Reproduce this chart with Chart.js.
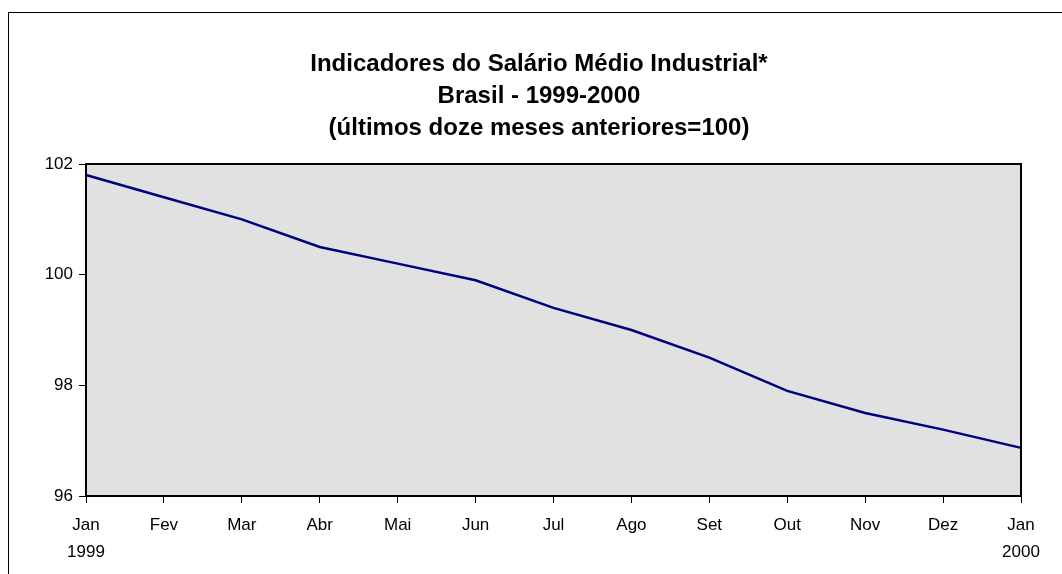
<!DOCTYPE html>
<html>
<head>
<meta charset="utf-8">
<script src="https://cdn.jsdelivr.net/npm/chart.js@4"></script>
<style>
  html, body { margin: 0; padding: 0; background: #ffffff; }
  #wrap { width: 1062px; height: 574px; }
</style>
</head>
<body>
<div id="wrap"><canvas id="salario-chart" width="1062" height="574"></canvas></div>
<script>
(function() {
	'use strict';

	// months shown on the x axis (Jan 1999 .. Jan 2000)
	var months = [['Jan', '1999'], 'Fev', 'Mar', 'Abr', 'Mai', 'Jun', 'Jul', 'Ago', 'Set', 'Out', 'Nov', 'Dez', ['Jan', '2000']];
	// index, previous twelve months = 100
	var indice = [101.8, 101.4, 101.0, 100.5, 100.2, 99.9, 99.4, 99.0, 98.5, 97.9, 97.5, 97.2, 96.87];
	var yTicks = [96, 98, 100, 102];

	var titleLines = [
		'Indicadores do Salário Médio Industrial*',
		'Brasil - 1999-2000',
		'(últimos doze meses anteriores=100)'
	];

	var FONT = '"Liberation Sans", Arial, sans-serif';

	// grey plot area, black frame round it, and the outer chart border
	var plotFrame = {
		id: 'plotFrame',
		beforeDraw: function(chart) {
			var c = chart.ctx, a = chart.chartArea;
			c.save();
			c.fillStyle = '#ffffff';
			c.fillRect(0, 0, chart.width, chart.height);
			c.strokeStyle = '#000000';
			c.lineWidth = 1;
			c.strokeRect(8.5, 12.5, chart.width + 20, chart.height + 20);
			c.fillStyle = '#e1e1e1';
			c.fillRect(a.left, a.top, a.right - a.left, a.bottom - a.top);
			c.restore();
		},
		afterDatasetsDraw: function(chart) {
			var c = chart.ctx, a = chart.chartArea;
			c.save();
			c.strokeStyle = '#000000';
			c.lineWidth = 2;
			c.strokeRect(a.left, a.top, a.right - a.left, a.bottom - a.top);
			c.restore();
		}
	};

	var canvas = document.getElementById('salario-chart');
	new Chart(canvas.getContext('2d'), {
		type: 'line',
		data: {
			labels: months,
			datasets: [{
				label: 'Salário médio industrial',
				data: indice,
				borderColor: '#000080',
				borderWidth: 2.5,
				fill: false,
				tension: 0,
				pointRadius: 0,
				clip: false
			}]
		},
		options: {
			responsive: false,
			animation: false,
			devicePixelRatio: 1,
			layout: {
				padding: { left: 40, right: 24, top: 0, bottom: 0 }
			},
			plugins: {
				legend: { display: false },
				tooltip: { enabled: false },
				title: {
					display: true,
					text: titleLines,
					color: '#000000',
					font: { family: FONT, size: 24, weight: 'bold', lineHeight: 32 / 24 },
					padding: { top: 48, bottom: 20 }
				}
			},
			scales: {
				x: {
					offset: false,
					grid: {
						display: true,
						drawOnChartArea: false,
						drawTicks: true,
						tickLength: 7,
						color: '#000000',
						lineWidth: 1
					},
					border: { display: false },
					ticks: {
						color: '#000000',
						font: { family: FONT, size: 17, lineHeight: 27 / 17 },
						maxRotation: 0,
						autoSkip: false,
						padding: 9
					},
					afterFit: function(scale) {
						scale.height = 78;
						scale.paddingLeft = 0;
						scale.paddingRight = 41;
					}
				},
				y: {
					min: 96,
					max: 102,
					afterBuildTicks: function(scale) {
						scale.ticks = yTicks.map(function(v) { return { value: v }; });
					},
					grid: {
						display: true,
						drawOnChartArea: false,
						drawTicks: true,
						tickLength: 7,
						color: '#000000',
						lineWidth: 1
					},
					border: { display: false },
					ticks: {
						color: '#000000',
						font: { family: FONT, size: 17 },
						padding: 6
					},
					afterFit: function(scale) {
						scale.width = 46;
					}
				}
			}
		},
		plugins: [plotFrame]
	});
})();
</script>
</body>
</html>
